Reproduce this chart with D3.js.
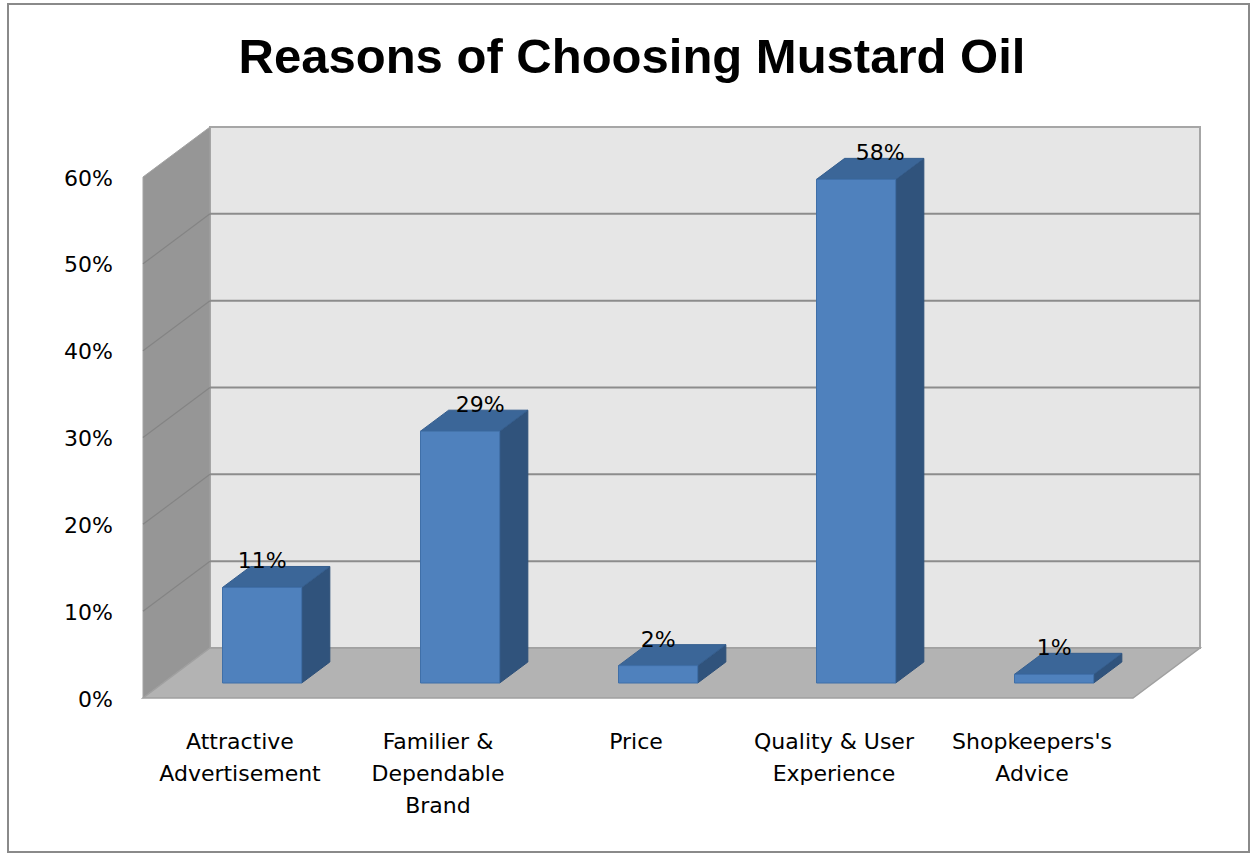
<!DOCTYPE html>
<html>
<head>
<meta charset="utf-8">
<script src="https://cdn.jsdelivr.net/npm/d3@7"></script>
<style>
  html, body { margin: 0; padding: 0; background: #ffffff; }
  svg { display: block; }
</style>
</head>
<body>
<svg id="chart" width="1255" height="854"></svg>
<script>
// Survey shares for the reasons people give for choosing a mustard oil
const categories = [
  ["Attractive", "Advertisement"],
  ["Familier &", "Dependable", "Brand"],
  ["Price"],
  ["Quality & User", "Experience"],
  ["Shopkeepers's", "Advice"]
];
const shares = [0.11, 0.29, 0.02, 0.58, 0.01];
const valueLabels = ["11%", "29%", "2%", "58%", "1%"];
const yTicks = [0, 0.1, 0.2, 0.3, 0.4, 0.5, 0.6];

const svg = d3.select("#chart");

// Oblique 3D frame: front plane plus a depth offset
const X0 = 143, X1 = 1133, FLOOR_Y = 698;
const DX = 67, DY = 50;
const F_FRONT = 0.3, F_BACK = 0.72;   // bar depth within the floor

const x = d3.scaleBand()
  .domain(d3.range(categories.length))
  .range([X0, X1])
  .paddingInner(0.6)
  .paddingOuter(0.3);

const h = d3.scaleLinear().domain([0, 0.6]).range([0, 521]);
const yFront = d3.scaleLinear().domain([0, 0.6]).range([FLOOR_Y, FLOOR_Y - 521]);

// project (front x, value, depth fraction) to screen
const P = (px, v, f) => [px + f * DX, FLOOR_Y - h(v) - f * DY];
const poly = pts => pts.map(p => p.join(",")).join(" ");

// outer frame
svg.append("rect")
  .attr("x", 8).attr("y", 4)
  .attr("width", 1241).attr("height", 848)
  .attr("fill", "#ffffff")
  .attr("stroke", "#8a8a8a").attr("stroke-width", 2);

// title
svg.append("text")
  .attr("x", 632).attr("y", 73)
  .attr("text-anchor", "middle")
  .style("font-family", "'Liberation Sans', Arial, sans-serif")
  .style("font-weight", "bold")
  .style("font-size", "49px")
  .attr("fill", "#000")
  .text("Reasons of Choosing Mustard Oil");

const vmax = 0.6;

// back wall
svg.append("polygon")
  .attr("points", poly([P(X0, 0, 1), P(X1, 0, 1), P(X1, vmax, 1), P(X0, vmax, 1)]))
  .attr("fill", "#e6e6e6").attr("stroke", "#a6a6a6").attr("stroke-width", 2);

// left wall
svg.append("polygon")
  .attr("points", poly([P(X0, 0, 0), P(X0, 0, 1), P(X0, vmax, 1), P(X0, vmax, 0)]))
  .attr("fill", "#969696").attr("stroke", "#a3a3a3").attr("stroke-width", 1);

// floor
svg.append("polygon")
  .attr("points", poly([P(X0, 0, 0), P(X1, 0, 0), P(X1, 0, 1), P(X0, 0, 1)]))
  .attr("fill", "#b3b3b3").attr("stroke", "#a0a0a0").attr("stroke-width", 1.5);

// gridlines on back wall and left wall
const grid = yTicks.filter(t => t > 0 && t < vmax);
svg.selectAll("line.gback").data(grid).join("line")
  .attr("class", "gback")
  .attr("x1", d => P(X0, d, 1)[0]).attr("y1", d => P(X0, d, 1)[1])
  .attr("x2", d => P(X1, d, 1)[0]).attr("y2", d => P(X1, d, 1)[1])
  .attr("stroke", "#8c8c8c").attr("stroke-width", 2);
svg.selectAll("line.gleft").data(grid).join("line")
  .attr("class", "gleft")
  .attr("x1", d => P(X0, d, 0)[0]).attr("y1", d => P(X0, d, 0)[1])
  .attr("x2", d => P(X0, d, 1)[0]).attr("y2", d => P(X0, d, 1)[1])
  .attr("stroke", "#848484").attr("stroke-width", 1.2);

// bars
const bars = svg.append("g");
shares.forEach((v, i) => {
  const a = x(i), b = x(i) + x.bandwidth();
  const g = bars.append("g");
  // right side
  g.append("polygon")
    .attr("points", poly([P(b, 0, F_FRONT), P(b, 0, F_BACK), P(b, v, F_BACK), P(b, v, F_FRONT)]))
    .attr("fill", "#30537c").attr("stroke", "#2d4f78").attr("stroke-width", 1);
  // top
  g.append("polygon")
    .attr("points", poly([P(a, v, F_FRONT), P(b, v, F_FRONT), P(b, v, F_BACK), P(a, v, F_BACK)]))
    .attr("fill", "#3b6698").attr("stroke", "#355e8e").attr("stroke-width", 1);
  // front
  g.append("polygon")
    .attr("points", poly([P(a, 0, F_FRONT), P(b, 0, F_FRONT), P(b, v, F_FRONT), P(a, v, F_FRONT)]))
    .attr("fill", "#4f81bd").attr("stroke", "#3f6fa8").attr("stroke-width", 1);
});

// value labels above each bar
const labelNudge = [0, 20, 0, 24, 0];
svg.selectAll("text.val").data(shares).join("text")
  .attr("class", "val")
  .attr("x", (d, i) => P(x(i) + x.bandwidth() / 2, d, F_FRONT)[0] + labelNudge[i])
  .attr("y", (d, i) => P(x(i), d, F_BACK)[1] + 2)
  .attr("text-anchor", "middle")
  .style("font-family", "'DejaVu Sans', sans-serif")
  .style("font-size", "22px")
  .attr("fill", "#000")
  .text((d, i) => valueLabels[i]);

// value axis
const yAxis = d3.axisLeft(yFront)
  .tickValues(yTicks)
  .tickFormat(d3.format(".0%"))
  .tickSize(0)
  .tickPadding(30);
const ax = svg.append("g")
  .attr("transform", `translate(${X0},1)`)
  .call(yAxis);
ax.select(".domain").remove();
ax.selectAll("text")
  .style("font-family", "'DejaVu Sans', sans-serif")
  .style("font-size", "22px")
  .attr("fill", "#000");

// category labels
const cat = svg.selectAll("text.cat").data(categories).join("text")
  .attr("class", "cat")
  .attr("text-anchor", "middle")
  .style("font-family", "'DejaVu Sans', sans-serif")
  .style("font-size", "22px")
  .attr("fill", "#000");
cat.each(function(lines, i) {
  const t = d3.select(this);
  lines.forEach((ln, k) => {
    t.append("tspan")
      .attr("x", x(i) + x.bandwidth() / 2 - 2)
      .attr("y", 749 + k * 32)
      .text(ln);
  });
});
</script>
</body>
</html>
